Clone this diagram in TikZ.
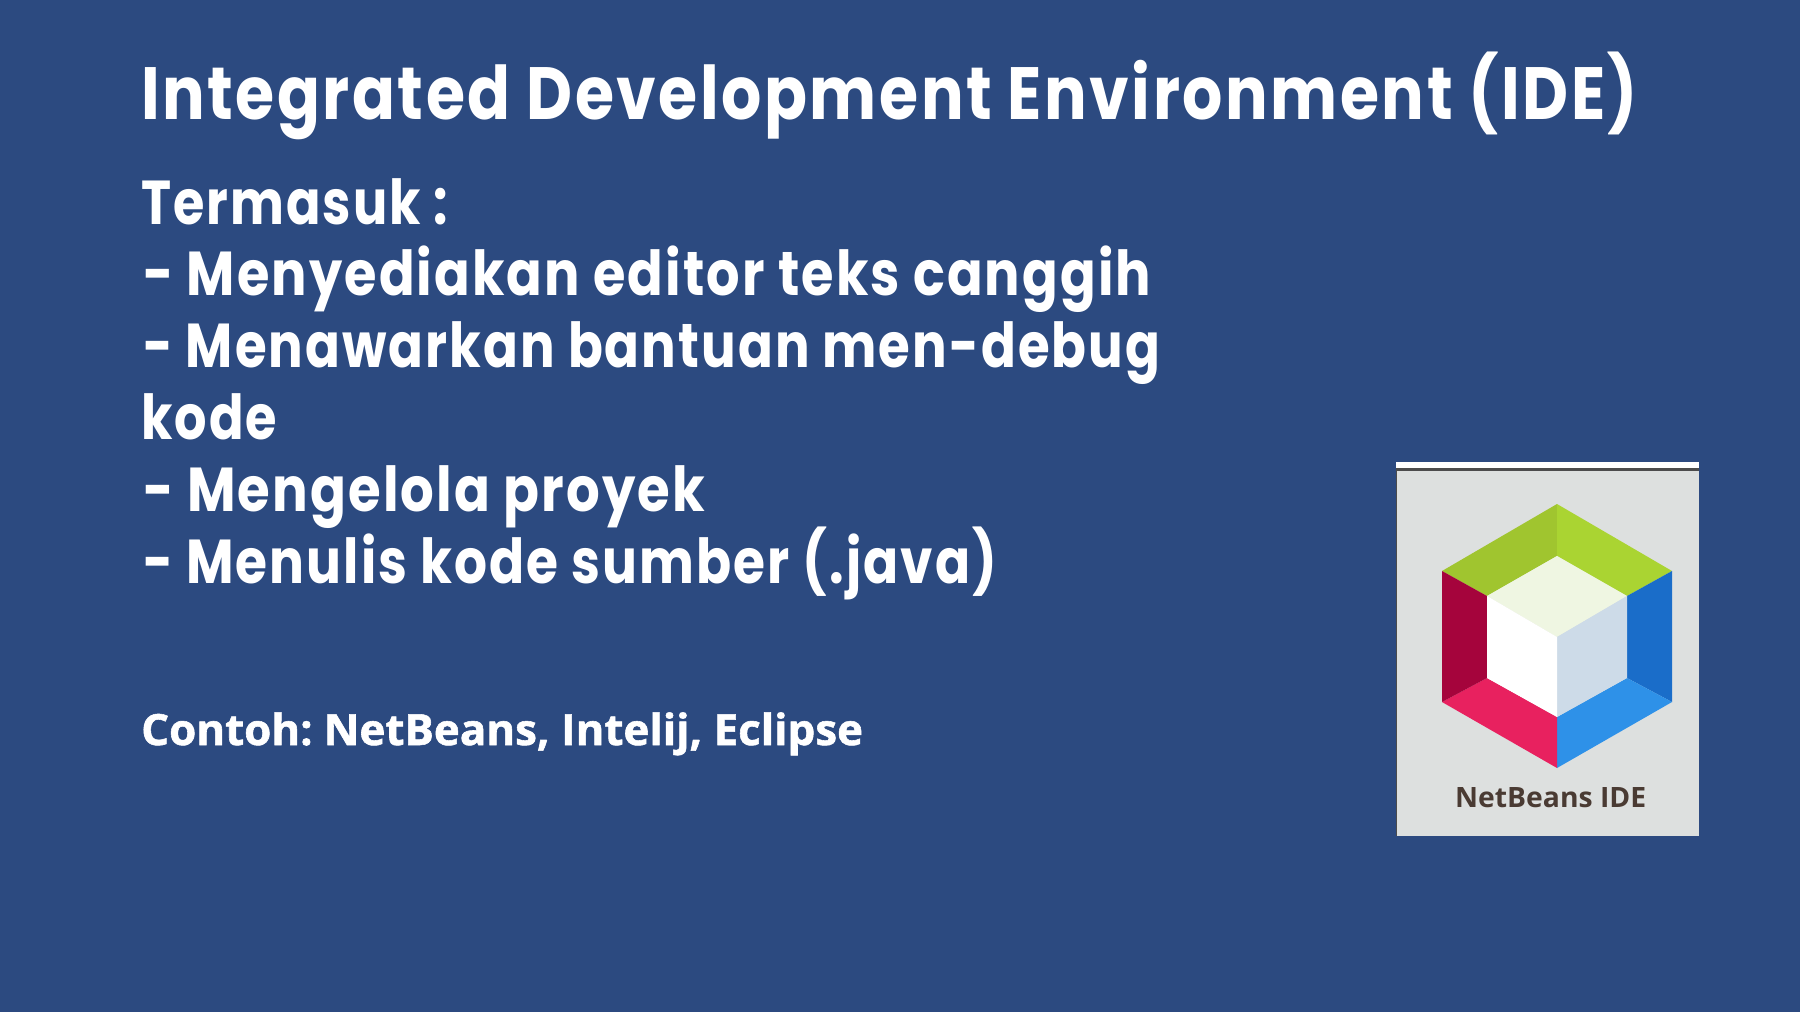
\documentclass[tikz,border=0pt]{standalone}
\usepackage{fontspec}
\usepackage{graphicx}
\newfontfamily\pop[LetterSpace=4]{Poppins}
\newfontfamily\opn[BoldFeatures={FakeBold=1.3}]{Open Sans}
\newfontfamily\opl{Open Sans}
\definecolor{bgblue}{HTML}{2C4A80}
\definecolor{imggray}{HTML}{DDE0DF}
\definecolor{lblbrown}{HTML}{4A3B33}
\definecolor{gleft}{HTML}{A0C52F}
\definecolor{gright}{HTML}{AAD432}
\definecolor{rdark}{HTML}{A5043C}
\definecolor{rpink}{HTML}{E8215F}
\definecolor{bdark}{HTML}{1A6DC9}
\definecolor{blight}{HTML}{2E91E8}
\definecolor{ftop}{HTML}{EFF6E2}
\definecolor{fright}{HTML}{CDDBE8}
\newsavebox\fitbox
\newcommand\fitw[2]{\sbox\fitbox{#2}\pgfmathsetmacro\fitr{#1/\wd\fitbox}\scalebox{\fitr}[1]{\usebox\fitbox}}
\tikzset{
 txt/.style={anchor=base west,inner sep=0pt,text=white},
 titlef/.style={txt,font=\pop\bfseries\fontsize{74}{74}\selectfont},
 bodyf/.style={txt,font=\pop\bfseries\fontsize{62}{62}\selectfont},
 exf/.style={txt,font=\opn\bfseries\fontsize{43}{43}\selectfont},
}
\begin{document}
\begin{tikzpicture}[x=1pt,y=-1pt]
\useasboundingbox (0,0) rectangle (1800,1012);
\fill[bgblue] (0,0) rectangle (1800,1012);
\node[titlef] (title) at (141,119.5) {\fitw{1497}{Integrated Development Environment (IDE)}};
\node[bodyf] (l1) at (141,224) {\fitw{307}{Termasuk :}};
\node[bodyf] (l2) at (143,295) {\fitw{1008}{- Menyediakan editor teks canggih}};
\node[bodyf] (l3) at (143,367) {\fitw{1017}{- Menawarkan bantuan men-debug}};
\node[bodyf] (l4) at (141,439) {\fitw{136}{kode}};
\node[bodyf] (l5) at (143,511) {\fitw{562}{- Mengelola proyek}};
\node[bodyf] (l6) at (143,583) {\fitw{854}{- Menulis kode sumber (.java)}};
\node[exf] (ex) at (141,745) {\fitw{722}{Contoh:\kern-4pt{} NetBeans, Intelij, Eclipse}};
% image
\fill[imggray] (1396,462) rectangle (1699,836);
\fill[white] (1396,462) rectangle (1699,468);
\fill[black!70] (1396,468) rectangle (1699,471);
\fill[black!70] (1396,468) rectangle (1397,836);
% hexagon
\coordinate (ot) at (1557,504); \coordinate (our) at (1672,571); \coordinate (olr) at (1672,702);
\coordinate (ob) at (1557,768); \coordinate (oll) at (1442,702); \coordinate (oul) at (1442,571);
\coordinate (it) at (1557,556); \coordinate (iur) at (1627,596); \coordinate (ilr) at (1627,678);
\coordinate (ib) at (1557,717); \coordinate (ill) at (1487,678); \coordinate (iul) at (1487,596);
\coordinate (c) at (1557,637);
\fill[gleft] (ot)--(it)--(iul)--(oul)--cycle;
\fill[gright] (ot)--(our)--(iur)--(it)--cycle;
\fill[bdark] (our)--(olr)--(ilr)--(iur)--cycle;
\fill[blight] (olr)--(ob)--(ib)--(ilr)--cycle;
\fill[rpink] (ob)--(oll)--(ill)--(ib)--cycle;
\fill[rdark] (oll)--(oul)--(iul)--(ill)--cycle;
\fill[ftop] (it)--(iur)--(c)--(iul)--cycle;
\fill[fright] (iur)--(ilr)--(ib)--(c)--cycle;
\fill[white] (iul)--(c)--(ib)--(ill)--cycle;
\node[anchor=base west,inner sep=0pt,text=lblbrown,font=\opl\bfseries\fontsize{28}{28}\selectfont] (lbl) at (1455,807) {\fitw{191}{NetBeans IDE}};
\end{tikzpicture}
\end{document}
